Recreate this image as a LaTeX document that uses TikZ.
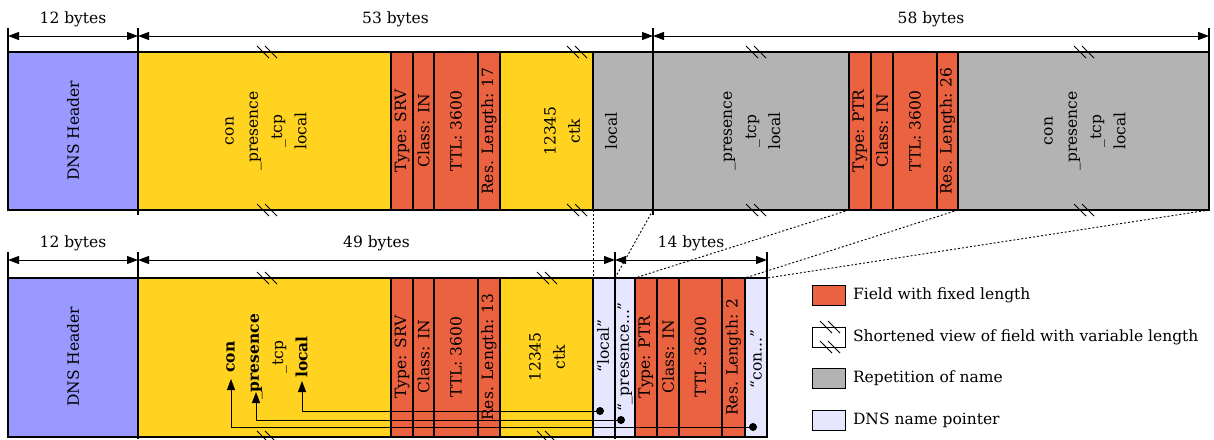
\documentclass[tikz,border=0pt]{standalone}
\usepackage{fontspec}
\setmainfont{DejaVu Serif}
\usepackage{xcolor}
\usepackage{tikz}
\usetikzlibrary{arrows.meta,positioning}
\definecolor{DnsBlue}{HTML}{9999FF}
\definecolor{NameYellow}{HTML}{FFD320}
\definecolor{FixedOrange}{HTML}{EB6240}
\definecolor{RepGray}{HTML}{B3B3B3}
\definecolor{PtrLavender}{HTML}{E6E6FF}
\newcommand{\brkmark}[2]{\draw[brk] (#1-10,#2-6)--(#1+2,#2+6) (#1-2,#2-6)--(#1+10,#2+6);}

\begin{document}
\begin{tikzpicture}[x=1pt,y=-1pt,
  every node/.style={font=\fontsize{15.5}{24.2}\selectfont},
  field/.style={draw=black,line width=1.1pt},
  lbl/.style={rotate=90,align=center,inner sep=0pt},
  dim/.style={{Triangle[length=11pt,width=8pt]}-{Triangle[length=11pt,width=8pt]},line width=1pt},
  ext/.style={line width=1.1pt},
  link/.style={line width=0.9pt,dash pattern=on 2pt off 2pt},
  brk/.style={line width=0.9pt},
  ptr/.style={-{Triangle[length=11pt,width=8pt]},line width=1pt},
  dot/.style={circle,fill=black,inner sep=0pt,minimum size=8pt},
  key/.style={draw=black,line width=1pt,minimum width=33pt,minimum height=20pt,inner sep=0pt}]
\useasboundingbox (0,0) rectangle (1214,439);
% top row: original message
\foreach \xa/\xb/\col in {8/138/DnsBlue,138/391/NameYellow,391/413/FixedOrange,413/434/FixedOrange,434/478/FixedOrange,478/500/FixedOrange,500/593/NameYellow,593/849/RepGray,849/871/FixedOrange,871/893/FixedOrange,893/937/FixedOrange,937/958/FixedOrange,958/1209/RepGray}{\filldraw[field,fill=\col] (\xa,52) rectangle (\xb,210);}
\foreach \x in {8,1209}{\draw[ext] (\x,28)--(\x,52);}
\foreach \x in {138,653}{\draw[ext] (\x,28)--(\x,215);}
\draw[dim] (8,36)--(138,36) node[midway,above=5pt] (top12) {12 bytes};
\draw[dim] (138,36)--(653,36) node[midway,above=5pt] (top53) {53 bytes};
\draw[dim] (653,36)--(1209,36) node[midway,above=5pt] (top58) {58 bytes};
\foreach \x in {267,577,756,1084}{\brkmark{\x}{52}\brkmark{\x}{210}}
\node[lbl] (thdr) at (73,131) {DNS Header};
\node[lbl] (tname) at (266,131) {con\\\_presence\\\_tcp\\local};
\node[lbl] (ttype) at (402,131) {Type: SRV};
\node[lbl] (tclass) at (423.5,131) {Class: IN};
\node[lbl] (tttl) at (456,131) {TTL: 3600};
\node[lbl] (tlen) at (489,131) {Res. Length: 17};
\node[lbl] (tport) at (562,131) {12345\\ctk};
\node[lbl] (tlocal) at (611,131) {local};
\node[lbl] (trep) at (752,131) {\_presence\\\_tcp\\local};
\node[lbl] (ttype2) at (860,131) {Type: PTR};
\node[lbl] (tclass2) at (882,131) {Class: IN};
\node[lbl] (tttl2) at (915,131) {TTL: 3600};
\node[lbl] (tlen2) at (947.5,131) {Res. Length: 26};
\node[lbl] (trep2) at (1085,131) {con\\\_presence\\\_tcp\\local};

% bottom row: compressed message
\foreach \xa/\xb/\col in {8/138/DnsBlue,138/391/NameYellow,391/413/FixedOrange,413/434/FixedOrange,434/478/FixedOrange,478/500/FixedOrange,500/593/NameYellow,593/635/PtrLavender,635/657/FixedOrange,657/679/FixedOrange,679/722/FixedOrange,722/745/FixedOrange,745/767/PtrLavender}{\filldraw[field,fill=\col] (\xa,278) rectangle (\xb,437);}
\foreach \x in {8,767}{\draw[ext] (\x,252)--(\x,278);}
\foreach \x in {138,615}{\draw[ext] (\x,252)--(\x,439);}
\draw[dim] (8,260)--(138,260) node[midway,above=5pt] (bot12) {12 bytes};
\draw[dim] (138,260)--(615,260) node[midway,above=5pt] (bot49) {49 bytes};
\draw[dim] (615,260)--(767,260) node[midway,above=5pt] (bot14) {14 bytes};
\foreach \x in {267,547}{\brkmark{\x}{278}\brkmark{\x}{437}}
\node[lbl] (bhdr) at (73,357) {DNS Header};
\node[lbl] (bname) at (267,357) {\textbf{con}\\\_\textbf{presence}\\\_tcp\\\textbf{local}};
\node[lbl] (btype) at (402,357) {Type: SRV};
\node[lbl] (bclass) at (423.5,357) {Class: IN};
\node[lbl] (bttl) at (456,357) {TTL: 3600};
\node[lbl] (blen) at (489,357) {Res. Length: 13};
\node[lbl] (bport) at (547,357) {12345\\ctk};
\node[lbl] (bplocal) at (603,346) {“local”};
\node[lbl] (bppres) at (625,357) {“\_presence...”};
\node[lbl] (btype2) at (646,357) {Type: PTR};
\node[lbl] (bclass2) at (668,357) {Class: IN};
\node[lbl] (bttl2) at (700.5,357) {TTL: 3600};
\node[lbl] (blen2) at (733.5,357) {Res. Length: 2};
\node[lbl] (bpcon) at (756,359) {“con...”};

% which part of the top row each compressed field stands for
\foreach \u/\l [count=\i] in {593/593,653/615,849/635,958/745,1209/767}{
  \coordinate (up\i) at (\u,210);
  \coordinate (lo\i) at (\l,278);
  \draw[link] (up\i)--(lo\i);
}

% pointers back into the first name
\node[dot] (dlocal) at (600,411) {};
\node[dot] (dpres) at (621,420) {};
\node[dot] (dcon) at (753,427) {};
\coordinate (alocal) at (302,381);
\coordinate (apres) at (256,392);
\coordinate (acon) at (231,379);
\draw[ptr] (dlocal.center) -| (alocal);
\draw[ptr] (dpres.center) -| (apres);
\draw[ptr] (dcon.center) -| (acon);

% legend
\node[key,fill=FixedOrange] (kfixed) at (828.5,295) {};
\node[right=4pt of kfixed] (tfixed) {Field with fixed length};
\node[key,fill=white] (kvar) at (828.5,337) {};
\brkmark{830}{327}\brkmark{830}{347}
\node[right=4pt of kvar] (tvar) {Shortened view of field with variable length};
\node[key,fill=RepGray] (krep) at (828.5,378) {};
\node[right=4pt of krep] (trepk) {Repetition of name};
\node[key,fill=PtrLavender] (kptr) at (828.5,420) {};
\node[right=4pt of kptr] (tptr) {DNS name pointer};
\end{tikzpicture}
\end{document}
